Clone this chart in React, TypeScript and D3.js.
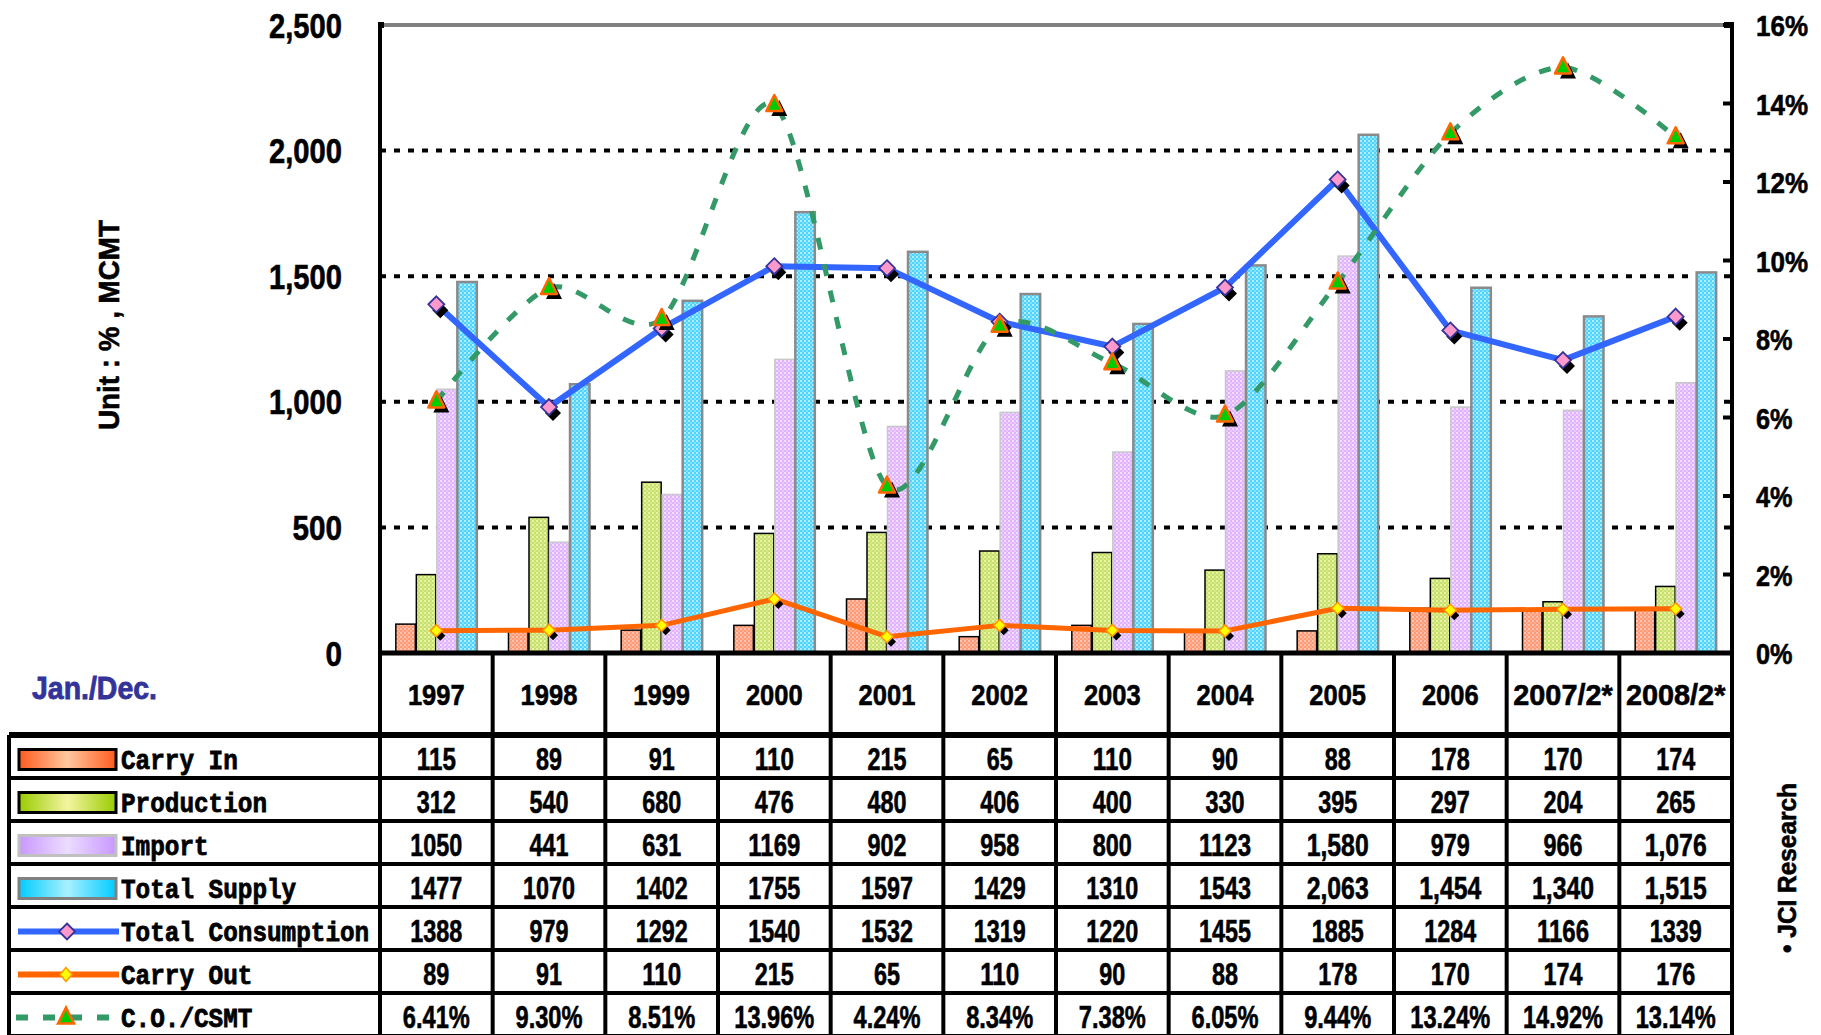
import React from "react";
import * as d3 from "d3";

const years = ["1997", "1998", "1999", "2000", "2001", "2002", "2003", "2004", "2005", "2006", "2007/2*", "2008/2*"];
const carryIn = [115, 89, 91, 110, 215, 65, 110, 90, 88, 178, 170, 174];
const production = [312, 540, 680, 476, 480, 406, 400, 330, 395, 297, 204, 265];
const imports = [1050, 441, 631, 1169, 902, 958, 800, 1123, 1580, 979, 966, 1076];
const totalSupply = [1477, 1070, 1402, 1755, 1597, 1429, 1310, 1543, 2063, 1454, 1340, 1515];
const totalConsumption = [1388, 979, 1292, 1540, 1532, 1319, 1220, 1455, 1885, 1284, 1166, 1339];
const carryOut = [89, 91, 110, 215, 65, 110, 90, 88, 178, 170, 174, 176];
const coRatio = [6.41, 9.3, 8.51, 13.96, 4.24, 8.34, 7.38, 6.05, 9.44, 13.24, 14.92, 13.14];
const leftTicks = [0, 500, 1000, 1500, 2000, 2500];
const rightTicks = [0, 2, 4, 6, 8, 10, 12, 14, 16];
const rowNames = ["Carry In", "Production", "Import", "Total Supply", "Total Consumption", "Carry Out", "C.O./CSMT"];

const W = 1821, H = 1035;
const plotLeft = 380, plotRight = 1732, plotTop = 25, plotBottom = 653;
const rowTop = 735, rowH = 43;

const SANS = "'Liberation Sans', Arial, sans-serif";
const MONO = "'Liberation Mono', 'DejaVu Sans Mono', monospace";

function charW(s: string, map: Record<string, number>, def: number) {
  let w = 0;
  for (const c of s) w += map[c] !== undefined ? map[c] : def;
  return w;
}

function Txt(props: { x: number; y: number; s: string; fs: number; w: number; anchor?: string; family?: string; fill?: string; rotate?: number; sw?: number }) {
  const { x, y, s, fs, w, anchor = "middle", family = SANS, fill = "#000", rotate, sw = 0.6 } = props;
  return (
    <text
      x={x}
      y={y}
      fontSize={fs}
      fontFamily={family}
      fontWeight="bold"
      fill={fill}
      stroke={fill}
      strokeWidth={sw}
      textAnchor={anchor as any}
      textLength={w}
      lengthAdjust="spacingAndGlyphs"
      transform={rotate !== undefined ? `rotate(${rotate},${x},${y})` : undefined}
    >
      {s}
    </text>
  );
}

const diamond = "M0,-8L8,0L0,8L-8,0Z";
const tri = "M0,-10L8,6L-8,6Z";

export default function App() {
  const x = d3.scaleBand<string>().domain(years).range([plotLeft, plotRight]).padding(0);
  const colW = x.bandwidth();
  const cx = (i: number) => (x(years[i]) as number) + colW / 2;
  const yL = d3.scaleLinear().domain([0, 2500]).range([plotBottom, plotTop]);
  const yR = d3.scaleLinear().domain([0, 16]).range([plotBottom, plotTop]);
  const barKeys = ["ci", "pr", "im", "ts"];
  const xs = d3.scaleBand<string>().domain(barKeys).range([-41, 41]).padding(0);
  const barData: Record<string, number[]> = { ci: carryIn, pr: production, im: imports, ts: totalSupply };
  const barStyle: Record<string, { fill: string; stroke: string; sw: number }> = {
    ci: { fill: "url(#pCI)", stroke: "#000", sw: 1.5 },
    pr: { fill: "url(#pPR)", stroke: "#000", sw: 1.5 },
    im: { fill: "url(#pIM)", stroke: "#c8c8c8", sw: 1.5 },
    ts: { fill: "url(#pTS)", stroke: "#8a8a8a", sw: 2.5 },
  };

  const lineStraight = d3.line<number>().x((_, i) => cx(i)).y((d) => yL(d));
  const lineCO = d3
    .line<number>()
    .x((_, i) => cx(i))
    .y((d) => yR(d))
    .curve(d3.curveCardinal.tension(0.15));

  const tableRows = [carryIn, production, imports, totalSupply, totalConsumption, carryOut, coRatio];
  const fmtComma = d3.format(",");
  const fmt = (r: number, i: number) => {
    const v = tableRows[r][i];
    if (r === 6) return v.toFixed(2) + "%";
    if ((r === 2 || r === 3) && i >= 8) return fmtComma(v);
    return String(v);
  };
  const tblW = (s: string) => charW(s, { ",": 10, ".": 10, "%": 18 }, 13);
  const leftTickW = (s: string) => charW(s, { ",": 7 }, 16.5);
  const rightTickW = (s: string) => charW(s, { "%": 21 }, 15.5);

  const rowCenter = (r: number) => rowTop + rowH * (r + 0.5);

  const colLines = d3.range(13).map((k) => plotLeft + k * colW);

  return (
    <svg width={W} height={H} style={{ position: "fixed", left: 0, top: 0, background: "#fff" }}>
      <defs>
        <pattern id="pCI" width="4" height="4" patternUnits="userSpaceOnUse">
          <rect width="4" height="4" fill="#ff9a78" />
          <rect width="2" height="2" fill="#ffc2ae" />
          <rect x="2" y="2" width="2" height="2" fill="#ffb090" />
        </pattern>
        <pattern id="pPR" width="4" height="4" patternUnits="userSpaceOnUse">
          <rect width="4" height="4" fill="#c4e070" />
          <rect width="2" height="2" fill="#eef2a0" />
          <rect x="2" y="2" width="2" height="2" fill="#d8ea88" />
        </pattern>
        <pattern id="pIM" width="4" height="4" patternUnits="userSpaceOnUse">
          <rect width="4" height="4" fill="#dcb4ff" />
          <rect width="2" height="2" fill="#f6dcff" />
          <rect x="2" y="2" width="2" height="2" fill="#ecc8fc" />
        </pattern>
        <pattern id="pTS" width="4" height="4" patternUnits="userSpaceOnUse">
          <rect width="4" height="4" fill="#50d4ff" />
          <rect width="2" height="2" fill="#b0eeff" />
          <rect x="2" y="2" width="2" height="2" fill="#80e2ff" />
        </pattern>
        <linearGradient id="gCI" x1="0" x2="1" y1="0" y2="0">
          <stop offset="0" stopColor="#ff5a1e" />
          <stop offset="0.5" stopColor="#ffc8a0" />
          <stop offset="1" stopColor="#ff5a1e" />
        </linearGradient>
        <linearGradient id="gPR" x1="0" x2="1" y1="0" y2="0">
          <stop offset="0" stopColor="#99cc00" />
          <stop offset="0.5" stopColor="#f4f4a0" />
          <stop offset="1" stopColor="#99cc00" />
        </linearGradient>
        <linearGradient id="gIM" x1="0" x2="1" y1="0" y2="0">
          <stop offset="0" stopColor="#c898ff" />
          <stop offset="0.5" stopColor="#ecdcff" />
          <stop offset="1" stopColor="#c898ff" />
        </linearGradient>
        <linearGradient id="gTS" x1="0" x2="1" y1="0" y2="0">
          <stop offset="0" stopColor="#00ccff" />
          <stop offset="0.5" stopColor="#a8f0ff" />
          <stop offset="1" stopColor="#00ccff" />
        </linearGradient>
      </defs>

      {/* gridlines */}
      {leftTicks.slice(1, -1).map((t) => (
        <line key={"g" + t} x1={plotLeft} x2={plotRight} y1={yL(t)} y2={yL(t)} stroke="#000" strokeWidth={4} strokeDasharray="6,8" />
      ))}

      {/* bars */}
      {years.map((yr, i) =>
        barKeys.map((k) => {
          const v = barData[k][i];
          const st = barStyle[k];
          return (
            <rect
              key={yr + k}
              x={cx(i) + (xs(k) as number) + 0.5}
              y={yL(v)}
              width={xs.bandwidth() - 1}
              height={plotBottom - yL(v)}
              fill={st.fill}
              stroke={st.stroke}
              strokeWidth={st.sw}
            />
          );
        })
      )}

      {/* plot frame */}
      <line x1={plotLeft} x2={plotRight} y1={plotTop} y2={plotTop} stroke="#808080" strokeWidth={4} />
      <line x1={plotLeft} x2={plotLeft} y1={plotTop - 2} y2={plotBottom} stroke="#000" strokeWidth={4} />
      <line x1={plotRight} x2={plotRight} y1={plotTop - 2} y2={plotBottom} stroke="#000" strokeWidth={4} />
      <rect x={plotLeft - 2} y={plotTop - 3} width={6} height={6} fill="#000" />
      <rect x={plotRight - 8} y={plotTop - 3} width={10} height={6} fill="#000" />
      {rightTicks.map((t) => (
        <line key={"rt" + t} x1={plotRight - 9} x2={plotRight} y1={yR(t)} y2={yR(t)} stroke="#000" strokeWidth={4} />
      ))}

      {/* lines */}
      <path d={lineStraight(carryOut) as string} fill="none" stroke="#ff6600" strokeWidth={5} strokeLinejoin="round" />
      <path d={lineStraight(totalConsumption) as string} fill="none" stroke="#3366ff" strokeWidth={6} strokeLinejoin="round" />
      <path d={lineCO(coRatio) as string} fill="none" stroke="#339966" strokeWidth={5} strokeDasharray="12,15" />

      {/* markers */}
      {carryOut.map((v, i) => (
        <g key={"co" + i}>
          <path d="M0,-5L5,0L0,5L-5,0Z" transform={`translate(${cx(i) + 4},${yL(v) + 5})`} fill="#000" />
          <path d="M0,-6L6,0L0,6L-6,0Z" transform={`translate(${cx(i)},${yL(v)})`} fill="#ffff00" stroke="#ff9900" strokeWidth={1.5} />
        </g>
      ))}
      {totalConsumption.map((v, i) => (
        <g key={"tc" + i}>
          <path d={diamond} transform={`translate(${cx(i) + 4},${yL(v) + 6})`} fill="#000" />
          <path d={diamond} transform={`translate(${cx(i)},${yL(v)})`} fill="#ff99cc" stroke="#333399" strokeWidth={1.8} />
        </g>
      ))}
      {coRatio.map((v, i) => (
        <g key={"cr" + i}>
          <path d={tri} transform={`translate(${cx(i) + 5},${yR(v) + 5})`} fill="#000" />
          <path d={tri} transform={`translate(${cx(i)},${yR(v)})`} fill="#00cc00" stroke="#ff6600" strokeWidth={2.5} strokeLinejoin="round" />
        </g>
      ))}

      {/* axis labels */}
      {leftTicks.map((t) => {
        const s = d3.format(",")(t);
        return <Txt key={"lt" + t} x={342} y={yL(t) + 12.5} s={s} fs={35} w={leftTickW(s)} anchor="end" />;
      })}
      {rightTicks.map((t) => {
        const s = t + "%";
        return <Txt key={"rl" + t} x={1756} y={yR(t) + 11} s={s} fs={30} w={rightTickW(s)} anchor="start" />;
      })}

      <Txt x={119} y={325} s="Unit : % , MCMT" fs={30} w={210} rotate={-90} />
      <Txt x={1796} y={868} s="• JCI Research" fs={26} w={170} rotate={-90} />
      <Txt x={32} y={699} s="Jan./Dec." fs={31} w={125} anchor="start" fill="#333399" sw={0.8} />

      {/* table */}
      <line x1={plotLeft} x2={plotRight} y1={plotBottom} y2={plotBottom} stroke="#000" strokeWidth={5} />
      {colLines.map((lx, k) => (
        <line key={"cl" + k} x1={lx} x2={lx} y1={plotBottom} y2={H} stroke="#000" strokeWidth={4} />
      ))}
      <line x1={9} x2={9} y1={rowTop} y2={H} stroke="#000" strokeWidth={4} />
      {d3.range(8).map((r) => (
        <line key={"rl" + r} x1={9} x2={plotRight + 2} y1={rowTop + r * rowH} y2={rowTop + r * rowH} stroke="#000" strokeWidth={r === 0 ? 6 : 4} />
      ))}
      {years.map((yr, i) => (
        <Txt key={"yh" + i} x={cx(i)} y={705} s={yr} fs={30} w={yr.length * 14.2} />
      ))}
      {tableRows.map((row, r) =>
        row.map((_, i) => {
          const s = fmt(r, i);
          return <Txt key={"tv" + r + "_" + i} x={cx(i)} y={rowCenter(r) + 2 + 11.5} s={s} fs={32} w={tblW(s)} />;
        })
      )}

      {/* legend column */}
      {rowNames.map((name, r) => {
        const cy = rowCenter(r) + 3;
        let key: React.ReactNode = null;
        if (r === 0) key = <rect x={19} y={cy - 10} width={97} height={20} fill="url(#gCI)" stroke="#000" strokeWidth={3} />;
        if (r === 1) key = <rect x={19} y={cy - 10} width={97} height={20} fill="url(#gPR)" stroke="#000" strokeWidth={3} />;
        if (r === 2) key = <rect x={19} y={cy - 10} width={97} height={20} fill="url(#gIM)" stroke="#c0c0c0" strokeWidth={3} />;
        if (r === 3) key = <rect x={19} y={cy - 10} width={97} height={20} fill="url(#gTS)" stroke="#808080" strokeWidth={3} />;
        if (r === 4)
          key = (
            <g>
              <line x1={18} x2={119} y1={cy} y2={cy} stroke="#3366ff" strokeWidth={6} />
              <path d={diamond} transform={`translate(67,${cy})`} fill="#ff99cc" stroke="#333399" strokeWidth={1.8} />
            </g>
          );
        if (r === 5)
          key = (
            <g>
              <line x1={18} x2={119} y1={cy} y2={cy} stroke="#ff6600" strokeWidth={6} />
              <path d="M0,-7L6,0L0,7L-6,0Z" transform={`translate(66,${cy})`} fill="#ffff00" stroke="#ff9900" strokeWidth={1.5} />
            </g>
          );
        if (r === 6)
          key = (
            <g>
              <line x1={16} x2={119} y1={cy} y2={cy} stroke="#339966" strokeWidth={6} strokeDasharray="12,15" />
              <path d={tri} transform={`translate(66,${cy})`} fill="#00cc00" stroke="#ff6600" strokeWidth={2.5} />
            </g>
          );
        return (
          <g key={"lg" + r}>
            {key}
            <Txt x={121} y={cy + 9} s={name} fs={28} w={name.length * 14.6} anchor="start" family={MONO} sw={0.8} />
          </g>
        );
      })}
    </svg>
  );
}
